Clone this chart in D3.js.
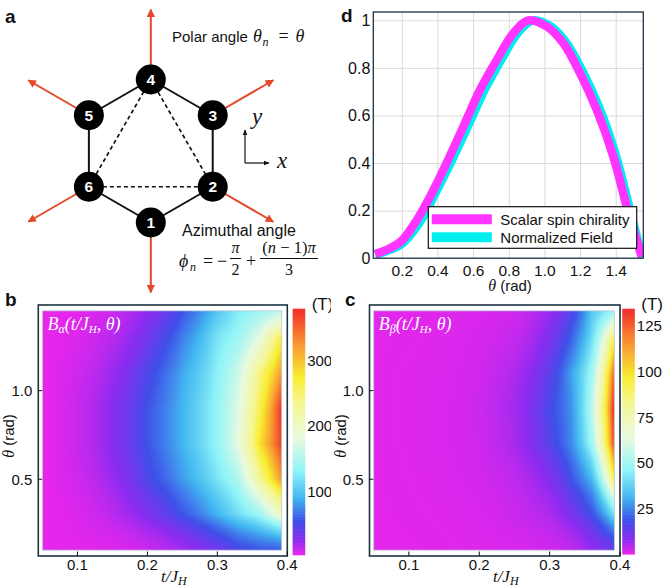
<!DOCTYPE html>
<html lang="en">
<head>
<meta charset="UTF-8">
<title>Spin chirality and emergent field</title>
<style>
  body { margin: 0; background: #fff; }
  text { font-family: "Liberation Sans", Arial, sans-serif; fill: #111; }
  .math { font-family: "Liberation Serif", "DejaVu Serif", serif; font-style: italic; }
  .up { font-family: "Liberation Serif", "DejaVu Serif", serif; font-style: normal; }
  .lbl { font-weight: bold; font-size: 19px; }
</style>
</head>
<body>
<div class="container"></div>
<script src="https://cdn.jsdelivr.net/npm/d3@7/dist/d3.min.js"></script>
<script>
// ---- data ----
// panel d: normalized curves vs polar angle (rad)
const thetaChirality = [0.05, 0.134, 0.2, 0.284, 0.359, 0.433, 0.545, 0.639, 0.733, 0.826, 0.91, 1.013, 1.106, 1.2, 1.294, 1.387, 1.462, 1.546]
const chirality      = [0.018, 0.042, 0.074, 0.16, 0.259, 0.371, 0.553, 0.708, 0.834, 0.946, 1.0, 0.974, 0.904, 0.778, 0.623, 0.427, 0.217, 0.006]
const thetaField     = [0.05, 0.134, 0.2, 0.3, 0.38, 0.455, 0.57, 0.665, 0.758, 0.85, 0.935, 1.03, 1.12, 1.215, 1.31, 1.4, 1.475, 1.55]
const normField      = [0.015, 0.035, 0.06, 0.15, 0.26, 0.371, 0.553, 0.708, 0.834, 0.946, 1.0, 0.978, 0.91, 0.785, 0.63, 0.435, 0.22, 0.0]
const dTicksX = [0.2, 0.4, 0.6, 0.8, 1.0, 1.2, 1.4]
const dTicksY = [0, 0.2, 0.4, 0.6, 0.8, 1]
const seriesNames = ["Scalar spin chirality", "Normalized Field"]

// panels b, c: field (T) on a grid of t/J_H (columns) and theta (rows, bottom to top)
const tGrid = [0.05, 0.1, 0.15, 0.2, 0.25, 0.3, 0.33, 0.36, 0.39]
const thetaGrid = [0.1, 0.3, 0.5, 0.7, 0.9, 1.1, 1.3, 1.45]
const fieldAlpha = [
  [3, 4, 5, 10, 20, 35, 48, 55, 58],
  [3, 6, 14, 30, 55, 90, 115, 140, 200],
  [3, 9, 22, 48, 80, 120, 150, 230, 320],
  [3, 11, 27, 55, 90, 135, 180, 280, 365],
  [3, 11, 27, 55, 90, 135, 175, 260, 372],
  [3, 9, 22, 48, 85, 130, 165, 240, 320],
  [3, 6, 15, 35, 70, 120, 140, 180, 265],
  [3, 4, 10, 25, 55, 100, 125, 140, 155]
]
const fieldBeta = [
  [0.5, 0.5, 0.6, 0.8, 1.2, 2, 3.5, 7, 12],
  [0.5, 0.6, 0.8, 1.2, 2.5, 5, 10, 18, 40],
  [0.5, 0.7, 1, 1.8, 3.5, 9, 18, 32, 90],
  [0.5, 0.8, 1.2, 2.2, 5.5, 15, 25, 50, 125],
  [0.5, 0.8, 1.2, 2.5, 6, 17, 26, 55, 132],
  [0.5, 0.8, 1.1, 2, 5, 14, 28, 50, 120],
  [0.5, 0.6, 0.9, 1.5, 3, 10, 20, 40, 90],
  [0.5, 0.5, 0.7, 1.2, 2, 7, 15, 35, 48]
]
const heatTicksX = [0.1, 0.2, 0.3, 0.4]
const heatTicksY = [0.5, 1.0]
const alphaRange = [3, 378]
const betaRange = [0, 134]
const alphaBarTicks = [100, 200, 300]
const betaBarTicks = [25, 50, 75, 100, 125]

// panel a: sites of the hexagon
const sites = [1, 2, 3, 4, 5, 6]

// colour map (fraction of range -> colour)
const cmapStops  = [0, 0.06, 0.135, 0.23, 0.34, 0.47, 0.62, 0.72, 0.85, 1]
const cmapColors = ["#e826ec", "#8a2cf0", "#3f50e8", "#42b6f0", "#90f4f8", "#e8fae0", "#f6f690", "#f8ee30", "#f89a30", "#f22a2a"]

const width = 664
const height = 588
const frameColor = "#1d3242"

const svg = d3.select(".container").append("svg")
  .attr("width", width).attr("height", height)

// ================= panel a =================
const pa = svg.append("g").attr("class", "panel-a")
pa.append("text").attr("class", "lbl").attr("x", 5).attr("y", 23).text("a")

const hx = d3.scaleLinear().domain([-1, 1]).range([150.8 - 71.5, 150.8 + 71.5])
const hy = d3.scaleLinear().domain([-1, 1]).range([151 + 71.5, 151 - 71.5])
const phi = n => -Math.PI / 2 + (n - 1) * Math.PI / 3
const siteX = n => hx(Math.cos(phi(n)))
const siteY = n => hy(Math.sin(phi(n)))

const defs = svg.append("defs")
defs.append("marker").attr("id", "redhead")
  .attr("viewBox", "0 0 10 10").attr("refX", 9).attr("refY", 5)
  .attr("markerWidth", 4.2).attr("markerHeight", 4.2).attr("orient", "auto")
  .append("path").attr("d", "M0,0 L10,5 L0,10 z").attr("fill", "#e5482a")
defs.append("marker").attr("id", "blackhead")
  .attr("viewBox", "0 0 10 10").attr("refX", 9).attr("refY", 5)
  .attr("markerWidth", 5).attr("markerHeight", 5).attr("orient", "auto")
  .append("path").attr("d", "M0,1 L10,5 L0,9 z").attr("fill", "#111")

// red arrows (radial, drawn under the sites)
const arrowLen = d3.scaleLinear().domain([0, 1]).range([0, 70])
pa.selectAll(".arrow").data(sites).join("line")
  .attr("class", "arrow")
  .attr("x1", d => siteX(d)).attr("y1", d => siteY(d))
  .attr("x2", d => siteX(d) + arrowLen(Math.cos(phi(d))))
  .attr("y2", d => siteY(d) - arrowLen(Math.sin(phi(d))))
  .attr("stroke", "#e5482a").attr("stroke-width", 2)
  .attr("marker-end", "url(#redhead)")

// hexagon bonds
pa.selectAll(".bond").data(sites).join("line")
  .attr("class", "bond")
  .attr("x1", d => siteX(d)).attr("y1", d => siteY(d))
  .attr("x2", d => siteX(d % 6 + 1)).attr("y2", d => siteY(d % 6 + 1))
  .attr("stroke", "#111").attr("stroke-width", 2)

// dashed triangle 2-4-6
const tri = [2, 4, 6]
pa.selectAll(".tri").data(tri).join("line")
  .attr("class", "tri")
  .attr("x1", d => siteX(d)).attr("y1", d => siteY(d))
  .attr("x2", d => siteX(d % 6 + 2)).attr("y2", d => siteY(d % 6 + 2))
  .attr("stroke", "#111").attr("stroke-width", 1.7).attr("stroke-dasharray", "4,3")

pa.selectAll(".site").data(sites).join("circle")
  .attr("class", "site")
  .attr("cx", d => siteX(d)).attr("cy", d => siteY(d)).attr("r", 15)
  .attr("fill", "#000")
pa.selectAll(".sitenum").data(sites).join("text")
  .attr("class", "sitenum")
  .attr("x", d => siteX(d)).attr("y", d => siteY(d) + 5.5)
  .attr("text-anchor", "middle").attr("font-size", 15.5).attr("font-weight", "bold")
  .style("fill", "#fff").text(d => d)

// small x-y axes
pa.append("line").attr("x1", 245).attr("y1", 163).attr("x2", 245).attr("y2", 130)
  .attr("stroke", "#111").attr("stroke-width", 1.2).attr("marker-end", "url(#blackhead)")
pa.append("line").attr("x1", 245).attr("y1", 163).attr("x2", 269).attr("y2", 163)
  .attr("stroke", "#111").attr("stroke-width", 1.2).attr("marker-end", "url(#blackhead)")
pa.append("text").attr("class", "math").attr("x", 252).attr("y", 124).attr("font-size", 23).text("y")
pa.append("text").attr("class", "math").attr("x", 277).attr("y", 168).attr("font-size", 23).text("x")

// polar angle text
pa.append("text").attr("x", 172).attr("y", 42).attr("font-size", 15).text("Polar angle")
pa.append("text").attr("class", "math").attr("x", 253).attr("y", 42).attr("font-size", 18).text("θ")
pa.append("text").attr("class", "math").attr("x", 262.5).attr("y", 46).attr("font-size", 12).text("n")
pa.append("text").attr("class", "up").attr("x", 283.5).attr("y", 42).attr("font-size", 18)
  .attr("text-anchor", "middle").text("=")
pa.append("text").attr("class", "math").attr("x", 295.5).attr("y", 42).attr("font-size", 18).text("θ")

// azimuthal angle text
pa.append("text").attr("x", 182).attr("y", 236).attr("font-size", 16).text("Azimuthal angle")
const az = pa.append("g").attr("class", "formula")
az.append("text").attr("class", "math").attr("x", 179).attr("y", 267).attr("font-size", 18).text("ϕ")
az.append("text").attr("class", "math").attr("x", 190).attr("y", 271).attr("font-size", 12).text("n")
az.append("text").attr("class", "up").attr("x", 208).attr("y", 267).attr("font-size", 18)
  .attr("text-anchor", "middle").text("=")
az.append("text").attr("class", "up").attr("x", 222).attr("y", 267).attr("font-size", 18)
  .attr("text-anchor", "middle").text("−")
az.append("text").attr("class", "math").attr("x", 235.5).attr("y", 253).attr("font-size", 16)
  .attr("text-anchor", "middle").text("π")
az.append("text").attr("class", "up").attr("x", 235.5).attr("y", 275).attr("font-size", 16)
  .attr("text-anchor", "middle").text("2")
az.append("line").attr("x1", 230).attr("x2", 241).attr("y1", 258.5).attr("y2", 258.5)
  .attr("stroke", "#111").attr("stroke-width", 1)
az.append("text").attr("class", "up").attr("x", 251).attr("y", 267).attr("font-size", 18)
  .attr("text-anchor", "middle").text("+")
const num = az.append("text").attr("class", "up").attr("x", 289).attr("y", 253).attr("font-size", 16.5)
  .attr("text-anchor", "middle")
num.append("tspan").text("(")
num.append("tspan").attr("class", "math").text("n")
num.append("tspan").text(" − 1)")
num.append("tspan").attr("class", "math").text("π")
az.append("text").attr("class", "up").attr("x", 289).attr("y", 275).attr("font-size", 16)
  .attr("text-anchor", "middle").text("3")
az.append("line").attr("x1", 260).attr("x2", 318).attr("y1", 258.5).attr("y2", 258.5)
  .attr("stroke", "#111").attr("stroke-width", 1)

// ================= panel d =================
const pd = svg.append("g").attr("class", "panel-d")
pd.append("text").attr("class", "lbl").attr("x", 341).attr("y", 22).text("d")

const dx = d3.scaleLinear().domain([0.04, 1.555]).range([373.3, 643.3])
const dy = d3.scaleLinear().domain([0, 1.035]).range([258.2, 12])

defs.append("clipPath").attr("id", "dclip").append("rect")
  .attr("x", dx.range()[0]).attr("y", dy.range()[1])
  .attr("width", dx.range()[1] - dx.range()[0]).attr("height", dy.range()[0] - dy.range()[1])

const vGrid = d3.axisBottom(dx).tickValues(dTicksX).tickSize(-(dy.range()[0] - dy.range()[1]))
  .tickFormat(d3.format(".1f"))
const gx = pd.append("g").attr("transform", `translate(0,${dy.range()[0]})`).call(vGrid)
gx.select(".domain").remove()
gx.selectAll(".tick line").attr("stroke", "#d9d9d9")
gx.selectAll(".tick text").attr("font-size", 15.5).attr("dy", "0.93em")
  .attr("font-family", "Liberation Sans, Arial, sans-serif").style("fill", "#111")

const hGrid = d3.axisLeft(dy).tickValues(dTicksY).tickSize(-(dx.range()[1] - dx.range()[0]))
  .tickFormat(d => d === 0 || d === 1 ? d3.format("d")(d) : d3.format(".1f")(d))
const gy = pd.append("g").attr("transform", `translate(${dx.range()[0]},0)`).call(hGrid)
gy.select(".domain").remove()
gy.selectAll(".tick line").attr("stroke", "#d9d9d9")
gy.selectAll(".tick text").attr("font-size", 16).attr("x", -3)
  .attr("font-family", "Liberation Sans, Arial, sans-serif").style("fill", "#111")

const line = d3.line().x(d => dx(d[0])).y(d => dy(d[1])).curve(d3.curveCatmullRom)
const curves = pd.append("g").attr("clip-path", "url(#dclip)")
curves.append("path").datum(d3.zip(thetaField, normField)).attr("d", line)
  .attr("fill", "none").attr("stroke", "#00eeee").attr("stroke-width", 8.5).attr("stroke-linejoin", "round")
curves.append("path").datum(d3.zip(thetaChirality, chirality)).attr("d", line)
  .attr("fill", "none").attr("stroke", "#ff35ff").attr("stroke-width", 8.5).attr("stroke-linejoin", "round")

pd.append("rect").attr("x", dx.range()[0]).attr("y", dy.range()[1])
  .attr("width", dx.range()[1] - dx.range()[0]).attr("height", dy.range()[0] - dy.range()[1])
  .attr("fill", "none").attr("stroke", frameColor).attr("stroke-width", 1.3)

// legend
const leg = pd.append("g").attr("transform", "translate(428.3,206.7)")
leg.append("rect").attr("width", 208.4).attr("height", 41.6)
  .attr("fill", "#fff").attr("stroke", "#111").attr("stroke-width", 1.2)
const legColors = ["#ff35ff", "#00eeee"]
seriesNames.forEach((name, i) => {
  leg.append("line").attr("x1", 3.5).attr("x2", 63.5).attr("y1", 12.5 + i * 18).attr("y2", 12.5 + i * 18)
    .attr("stroke", legColors[i]).attr("stroke-width", 10)
  leg.append("text").attr("x", 72).attr("y", 18 + i * 18).attr("font-size", 15).text(name)
})

const dlab = pd.append("text").attr("x", 510).attr("y", 291).attr("font-size", 15).attr("text-anchor", "middle")
dlab.append("tspan").attr("class", "math").attr("font-size", 16).text("θ")
dlab.append("tspan").text(" (rad)")

// ================= panels b, c =================
const cmap = (lo, hi) => d3.scaleLinear()
  .domain(cmapStops.map(s => lo + s * (hi - lo)))
  .range(cmapColors).clamp(true)

function sampleGrid(field, t, th) {
  const i = Math.max(0, Math.min(tGrid.length - 2, d3.bisectRight(tGrid, t) - 1))
  const j = Math.max(0, Math.min(thetaGrid.length - 2, d3.bisectRight(thetaGrid, th) - 1))
  const u = Math.max(0, Math.min(1, (t - tGrid[i]) / (tGrid[i + 1] - tGrid[i])))
  const w = Math.max(0, Math.min(1, (th - thetaGrid[j]) / (thetaGrid[j + 1] - thetaGrid[j])))
  const L = v => Math.log(v)
  const a = L(field[j][i]) * (1 - u) + L(field[j][i + 1]) * u
  const b = L(field[j + 1][i]) * (1 - u) + L(field[j + 1][i + 1]) * u
  return Math.exp(a * (1 - w) + b * w)
}

function heatPanel(opts) {
  const g = svg.append("g").attr("class", opts.cls)
  if (opts.clip) g.attr("clip-path", `url(#${opts.clip})`)
  const x = d3.scaleLinear().domain([0.044, 0.4]).range(opts.xr)
  const y = d3.scaleLinear().domain([0.067, 1.483]).range([556, 305])
  const color = cmap(opts.range[0], opts.range[1])

  g.append("text").attr("class", "lbl").attr("x", opts.lblX).attr("y", 306).text(opts.lbl)

  // frame, ticks
  g.append("rect").attr("x", x.range()[0]).attr("y", y.range()[1])
    .attr("width", x.range()[1] - x.range()[0]).attr("height", y.range()[0] - y.range()[1])
    .attr("fill", "#fff").attr("stroke", frameColor).attr("stroke-width", 1.6)
  g.selectAll(".xt").data(heatTicksX).join("line").attr("class", "xt")
    .attr("x1", d => x(d)).attr("x2", d => x(d)).attr("y1", 556).attr("y2", 551.5)
    .attr("stroke", "#111").attr("stroke-width", 1)
  g.selectAll(".yt").data(heatTicksY).join("line").attr("class", "yt")
    .attr("x1", x.range()[0]).attr("x2", x.range()[0] + 4.5).attr("y1", d => y(d)).attr("y2", d => y(d))
    .attr("stroke", "#111").attr("stroke-width", 1)

  // heat image
  const x0 = x(tGrid[0]), x1 = x(0.392)
  const yTop = y(thetaGrid[thetaGrid.length - 1]), yBot = y(thetaGrid[0])
  const k = 2
  const W = Math.round((x1 - x0) * k), H = Math.round((yBot - yTop) * k)
  const canvas = document.createElement("canvas")
  canvas.width = W; canvas.height = H
  const ctx = canvas.getContext("2d")
  const img = ctx.createImageData(W, H)
  for (let py = 0; py < H; py++) {
    const th = y.invert(yTop + (py + 0.5) / k)
    for (let px = 0; px < W; px++) {
      const t = x.invert(x0 + (px + 0.5) / k)
      const c = d3.rgb(color(sampleGrid(opts.field, t, th)))
      const o = (py * W + px) * 4
      img.data[o] = c.r; img.data[o + 1] = c.g; img.data[o + 2] = c.b; img.data[o + 3] = 255
    }
  }
  ctx.putImageData(img, 0, 0)
  g.append("image").attr("href", canvas.toDataURL())
    .attr("x", x0).attr("y", yTop).attr("width", x1 - x0).attr("height", yBot - yTop)
    .attr("preserveAspectRatio", "none")
  g.append("rect").attr("x", x0).attr("y", yTop).attr("width", x1 - x0).attr("height", yBot - yTop)
    .attr("fill", "none").attr("stroke", "#b9cad3").attr("stroke-width", 0.8)

  // inner label
  const il = g.append("text").attr("class", "math").attr("x", x0 + 5).attr("y", 330)
    .attr("font-size", 18).style("fill", "#fff")
  il.append("tspan").style("fill", "#fff").text("B")
  il.append("tspan").style("fill", "#fff").attr("font-size", 12).attr("dy", 3).text(opts.sub)
  il.append("tspan").style("fill", "#fff").attr("dy", -3).text("(t/J")
  il.append("tspan").style("fill", "#fff").attr("font-size", 11).attr("dy", 3).text("H")
  il.append("tspan").style("fill", "#fff").attr("dy", -3).text(", θ)")

  // tick labels
  g.selectAll(".xl").data(heatTicksX).join("text").attr("class", "xl")
    .attr("x", d => x(d)).attr("y", 570).attr("text-anchor", "middle").attr("font-size", 15)
    .text(d3.format(".1f"))
  g.selectAll(".yl").data(heatTicksY).join("text").attr("class", "yl")
    .attr("x", x.range()[0] - 6).attr("y", d => y(d) + 5.5).attr("text-anchor", "end").attr("font-size", 15)
    .text(d3.format(".1f"))

  const xl = g.append("text").attr("class", "math").attr("x", (x.range()[0] + x.range()[1]) / 2 + 11)
    .attr("y", 582).attr("font-size", 17).attr("text-anchor", "middle")
  xl.append("tspan").text("t/J")
  xl.append("tspan").attr("font-size", 12).attr("dy", 3).text("H")

  const yl = g.append("text").attr("transform", `translate(${x.range()[0] - 24},436) rotate(-90)`)
    .attr("text-anchor", "middle").attr("font-size", 15)
  yl.append("tspan").attr("class", "math").attr("font-size", 16).text("θ")
  yl.append("tspan").text(" (rad)")

  // colour bar
  const cb = d3.scaleLinear().domain(opts.range).range([opts.cbBottom, 309])
  const steps = d3.range(0, 1.0001, 1 / 160).map(f => opts.range[0] + f * (opts.range[1] - opts.range[0]))
  g.selectAll(".cb").data(steps.slice(0, -1)).join("rect").attr("class", "cb")
    .attr("x", opts.cbX).attr("width", 12.5)
    .attr("y", (d, i) => cb(steps[i + 1]) - 0.3)
    .attr("height", (d, i) => cb(d) - cb(steps[i + 1]) + 0.6)
    .attr("fill", d => color(d))
  g.selectAll(".cbl").data(opts.barTicks).join("text").attr("class", "cbl")
    .attr("x", opts.cbX + 14.5).attr("y", d => cb(d) + 5.5).attr("font-size", 15).text(d => d)
  g.append("text").attr("x", opts.cbX + 19).attr("y", 310).attr("font-size", 17).text("(T)")
}

defs.append("clipPath").attr("id", "bclip").append("rect")
  .attr("x", 0).attr("y", 280).attr("width", 331).attr("height", 308)

heatPanel({ cls: "panel-b", clip: "bclip", lbl: "b", lblX: 5, xr: [38.3, 287.3], field: fieldAlpha,
  range: alphaRange, sub: "α", cbX: 292.7, cbBottom: 555, barTicks: alphaBarTicks })
heatPanel({ cls: "panel-c", lbl: "c", lblX: 345, xr: [369.5, 620], field: fieldBeta,
  range: betaRange, sub: "β", cbX: 622.3, cbBottom: 554.3, barTicks: betaBarTicks })
</script>
</body>
</html>
